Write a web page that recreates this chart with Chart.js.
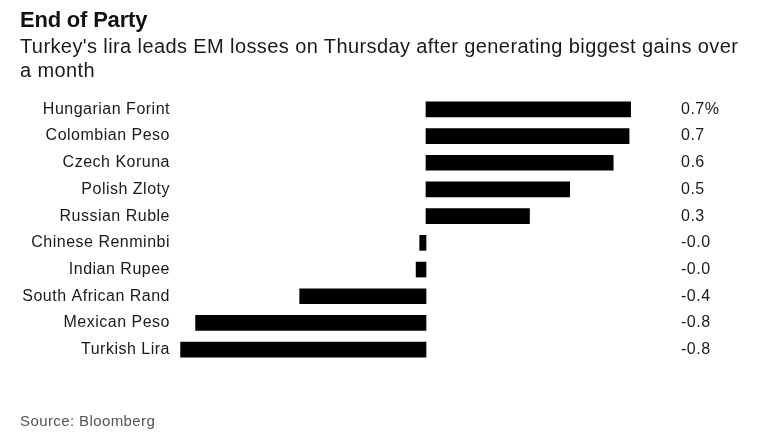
<!DOCTYPE html>
<html>
<head>
<meta charset="utf-8">
<script src="https://cdn.jsdelivr.net/npm/chart.js@4.4.0/dist/chart.umd.min.js"></script>
<style>
  body { margin: 0; background: #fff; }
  #wrap { position: relative; width: 768px; height: 448px; font-family: 'Liberation Sans', Arial, sans-serif; color: #111; }
  #title { position: absolute; left: 20px; top: 7px; font-size: 22px; font-weight: bold; letter-spacing: -0.2px; }
  #sub { position: absolute; left: 20px; top: 35px; width: 730px; font-size: 20px; line-height: 23.5px; letter-spacing: 0.4px; color: #1a1a1a; }
  #source { position: absolute; left: 20px; top: 412px; font-size: 15px; letter-spacing: 0.4px; color: #555; }
  #mycanvas { position: absolute; left: 0; top: 0; }
</style>
</head>
<body>
<div id="wrap">
  <canvas id="mycanvas" width="768" height="448"></canvas>
  <div id="title">End of Party</div>
  <div id="sub">Turkey's lira leads EM losses on Thursday after generating biggest gains over a month</div>
  <div id="source">Source: Bloomberg</div>
</div>
<script>
// currency names, top to bottom
var currencies = ['Hungarian Forint', 'Colombian Peso', 'Czech Koruna', 'Polish Zloty', 'Russian Ruble',
  'Chinese Renminbi', 'Indian Rupee', 'South African Rand', 'Mexican Peso', 'Turkish Lira'];
// % change on the day
var changes = [0.682, 0.677, 0.624, 0.479, 0.345, -0.021, -0.033, -0.421, -0.768, -0.818];
// printed labels on the right
var valueLabels = ['0.7%', '0.7', '0.6', '0.5', '0.3', '-0.0', '-0.0', '-0.4', '-0.8', '-0.8'];

Chart.defaults.font.family = "'Liberation Sans', Arial, sans-serif";
Chart.defaults.color = '#1a1a1a';

// slightly wider lettering like the original
var spacing = {
  id: 'spacing',
  beforeDraw: function (chart) { chart.ctx.letterSpacing = '0.5px'; }
};

var ctx = document.getElementById('mycanvas');
var barGraph = new Chart(ctx, {
  type: 'bar',
  data: {
    labels: currencies,
    datasets: [{
      data: changes,
      backgroundColor: '#000',
      borderWidth: 0,
      barThickness: 15
    }]
  },
  options: {
    indexAxis: 'y',
    responsive: false,
    animation: false,
    layout: { padding: { top: 96, bottom: 85, left: 0, right: 0 } },
    plugins: { legend: { display: false }, tooltip: { enabled: false } },
    scales: {
      x: { display: false, min: -0.82, max: 0.85 },
      y: {
        position: 'left',
        grid: { display: false, drawTicks: false },
        border: { display: false },
        ticks: { padding: 10, font: { size: 16 }, color: '#1a1a1a' },
        afterFit: function (s) { s.width = 180; }
      },
      y2: {
        type: 'category',
        labels: valueLabels,
        position: 'right',
        offset: true,
        grid: { display: false, drawTicks: false },
        border: { display: false },
        ticks: { padding: 0, font: { size: 16 }, color: '#1a1a1a' },
        afterFit: function (s) { s.width = 87; }
      }
    }
  },
  plugins: [spacing]
});
</script>
</body>
</html>
